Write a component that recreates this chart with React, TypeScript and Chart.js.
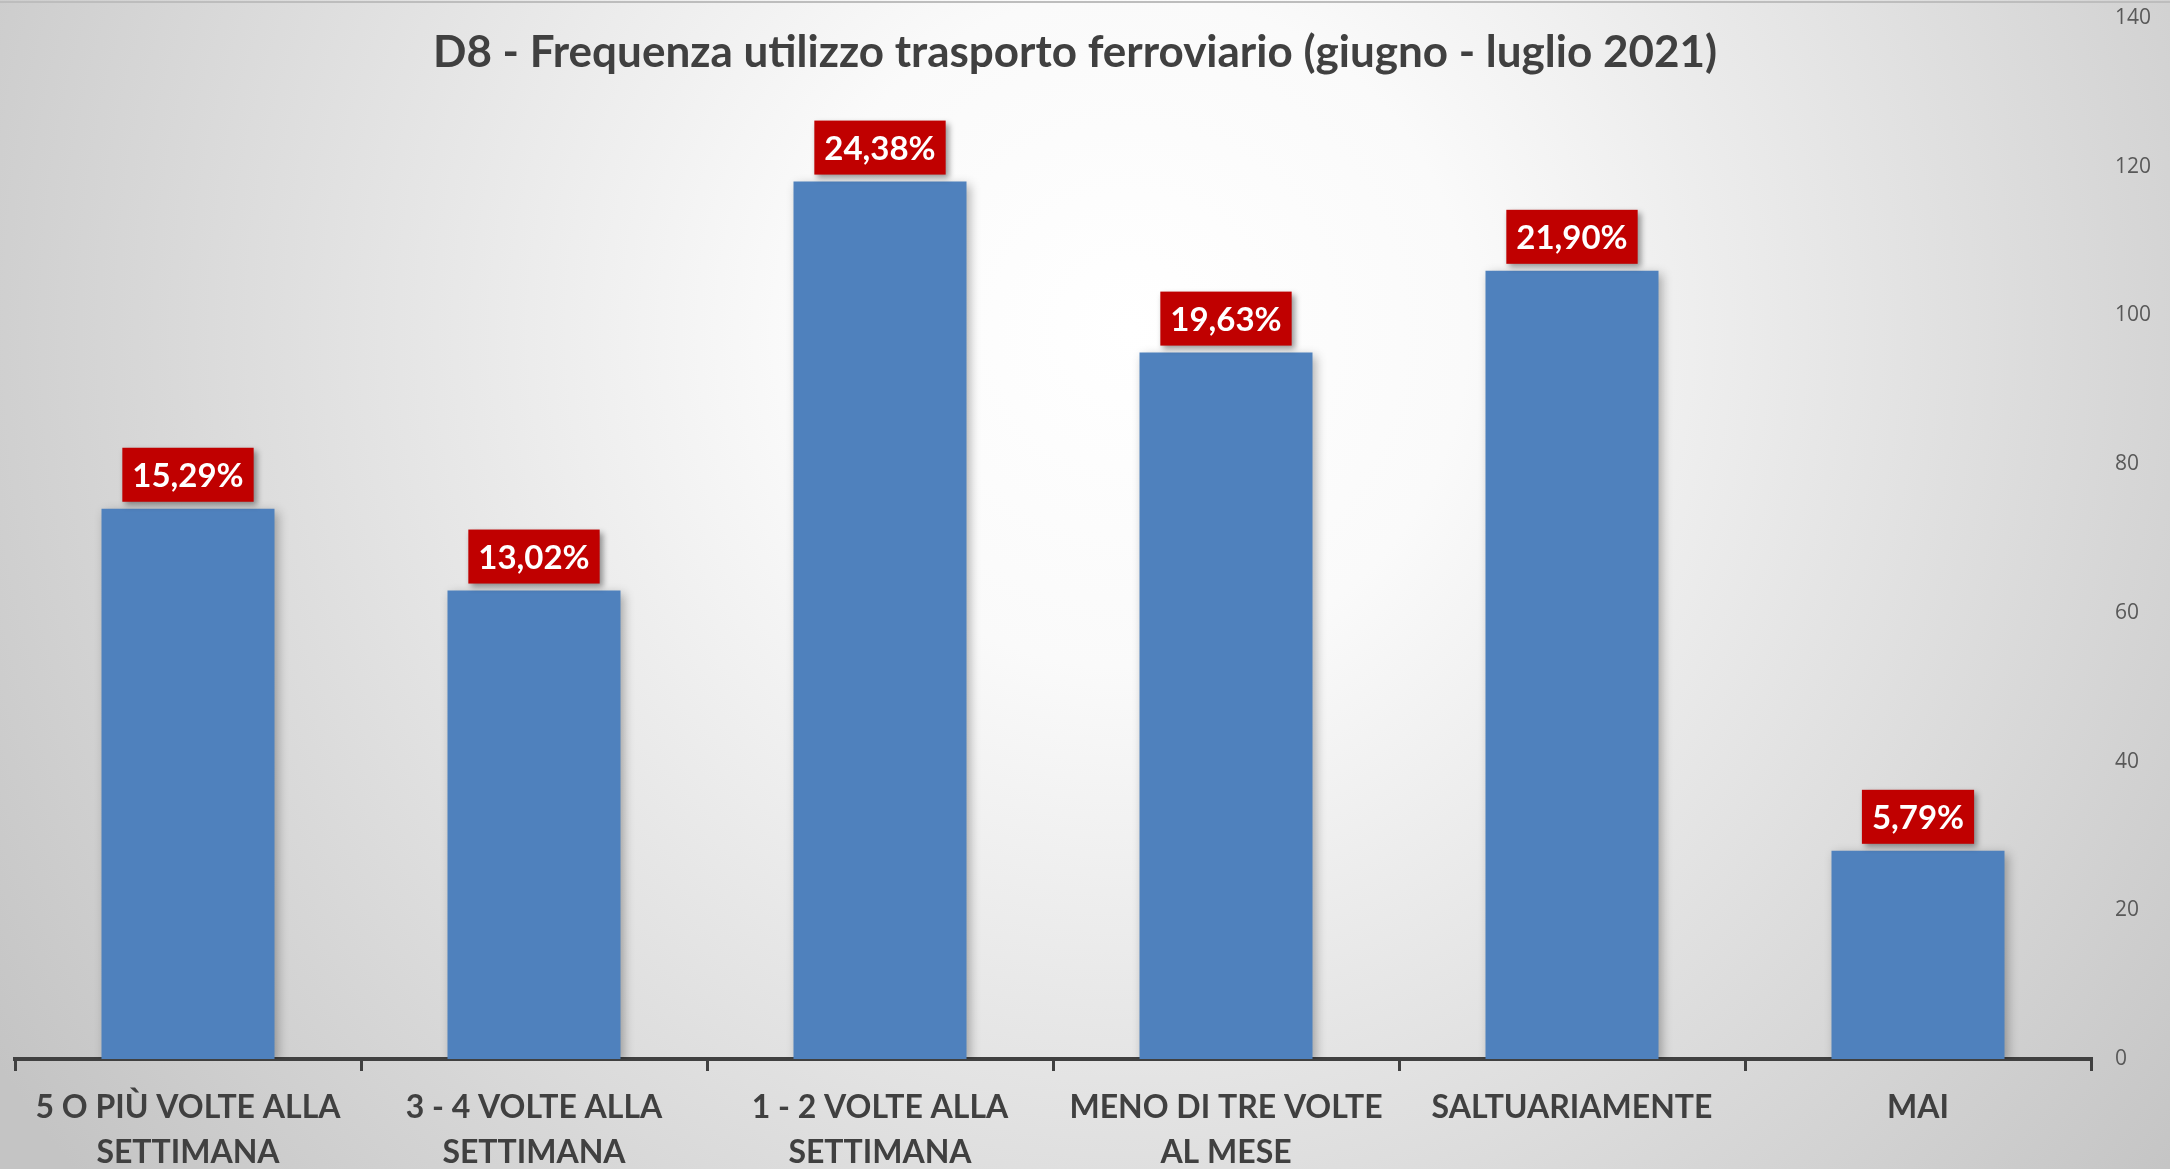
import React, { useEffect, useRef } from "react";
import { Chart, registerables } from "chart.js";

Chart.register(...registerables);

const titleText = "D8 - Frequenza utilizzo trasporto ferroviario (giugno - luglio 2021)";
const categories: string[][] = [
  ["5 O PIÙ VOLTE ALLA", "SETTIMANA"],
  ["3 - 4 VOLTE ALLA", "SETTIMANA"],
  ["1 - 2 VOLTE ALLA", "SETTIMANA"],
  ["MENO DI TRE VOLTE", "AL MESE"],
  ["SALTUARIAMENTE"],
  ["MAI"],
];
const counts = [74, 63, 118, 95, 106, 28];
const percentLabels = ["15,29%", "13,02%", "24,38%", "19,63%", "21,90%", "5,79%"];
const yMin = 0;
const yMax = 140;
const yStep = 20;

const W = 2170;
const H = 1189;

const bgPlugin = {
  id: "bgPlugin",
  beforeDraw(chart: any) {
    const ctx = chart.ctx;
    ctx.save();
    const g = ctx.createRadialGradient(1130, 330, 0, 1130, 330, 1350);
    g.addColorStop(0, "#ffffff");
    g.addColorStop(0.25, "#fafafa");
    g.addColorStop(1, "#c4c4c4");
    ctx.fillStyle = g;
    ctx.fillRect(0, 0, chart.width, chart.height);
    ctx.fillStyle = "#bdbdbd";
    ctx.fillRect(0, 1, chart.width, 2);
    ctx.restore();
  },
  afterDraw(chart: any) {
    const ctx = chart.ctx;
    ctx.save();
    ctx.font = "bold 44px Lato";
    ctx.fillStyle = "#404040";
    ctx.textAlign = "center";
    ctx.textBaseline = "alphabetic";
    ctx.fillText(titleText, 1075, 67);
    ctx.restore();
  },
};

const barDecor = {
  id: "barDecor",
  beforeDatasetsDraw(chart: any) {
    const ctx = chart.ctx;
    ctx.save();
    ctx.shadowColor = "rgba(0,0,0,0.3)";
    ctx.shadowBlur = 10;
    ctx.shadowOffsetX = 3;
    ctx.shadowOffsetY = 3;
  },
  afterDatasetsDraw(chart: any) {
    const ctx = chart.ctx;
    ctx.restore();
    const meta = chart.getDatasetMeta(0);
    ctx.save();
    ctx.font = "bold 33px Lato";
    meta.data.forEach((bar: any, i: number) => {
      const txt = percentLabels[i];
      const w = ctx.measureText(txt).width;
      const bw = w + 20;
      const bh = 54;
      const bottom = bar.y - 7;
      const left = bar.x - bw / 2;
      ctx.save();
      ctx.shadowColor = "rgba(0,0,0,0.4)";
      ctx.shadowBlur = 6;
      ctx.shadowOffsetX = 3;
      ctx.shadowOffsetY = 3;
      ctx.fillStyle = "#C00000";
      ctx.fillRect(left, bottom - bh, bw, bh);
      ctx.restore();
      ctx.fillStyle = "#ffffff";
      ctx.textAlign = "center";
      ctx.textBaseline = "middle";
      ctx.fillText(txt, bar.x, bottom - bh / 2 + 2);
    });
    ctx.restore();
  },
};

export default function App() {
  const ref = useRef<HTMLCanvasElement>(null);
  useEffect(() => {
    const chart = new Chart(ref.current as HTMLCanvasElement, {
      type: "bar",
      data: {
        labels: categories,
        datasets: [
          {
            data: counts,
            backgroundColor: "#4F81BD",
            borderWidth: 0,
            barPercentage: 0.5,
            categoryPercentage: 1.0,
          },
        ],
      },
      options: {
        responsive: false,
        animation: false,
        devicePixelRatio: 1,
        layout: { padding: { top: 18, left: 15, right: 0, bottom: 0 } },
        plugins: {
          legend: { display: false },
          tooltip: { enabled: false },
          title: { display: false },
        },
        scales: {
          x: {
            offset: true,
            grid: {
              display: true,
              offset: true,
              drawOnChartArea: false,
              drawTicks: true,
              tickLength: 12,
              color: "#404040",
              lineWidth: 3,
            },
            border: { display: true, color: "#404040", width: 4 },
            ticks: {
              color: "#404040",
              font: { family: "Lato", weight: "bold", size: 32, lineHeight: "45px" },
              padding: 14,
              maxRotation: 0,
              autoSkip: false,
            },
          },
          y: {
            position: "right",
            min: yMin,
            max: yMax,
            ticks: {
              stepSize: yStep,
              color: "#595959",
              font: { family: "Open Sans", size: 21 },
              padding: 24,
            },
            grid: { display: false, drawTicks: false },
            border: { display: false },
            afterFit: (s: any) => {
              s.width = 79;
              s.paddingTop = 0;
              s.paddingBottom = 0;
            },
          },
        },
      } as any,
      plugins: [bgPlugin, barDecor],
    });
    return () => chart.destroy();
  }, []);
  return (
    <div style={{ position: "fixed", left: 0, top: 0, width: W, height: 1169, overflow: "hidden" }}>
      <canvas ref={ref} width={W} height={H} style={{ display: "block", width: W, height: H }} />
    </div>
  );
}
